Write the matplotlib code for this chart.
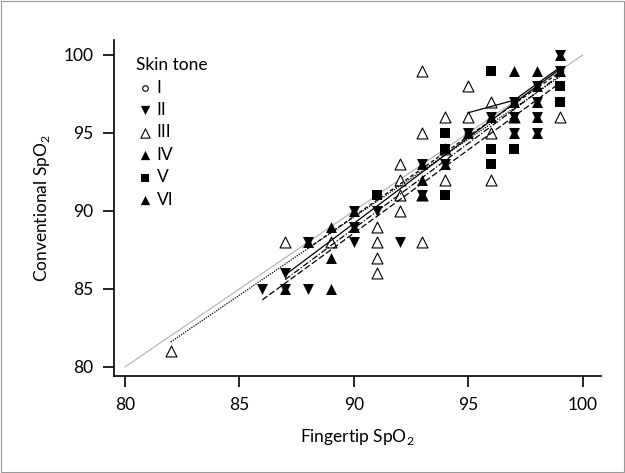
import matplotlib
matplotlib.use("Agg")
import matplotlib.pyplot as plt
from matplotlib.patches import Rectangle

plt.rcParams["font.family"] = ["Lato", "DejaVu Sans"]
plt.rcParams["mathtext.fontset"] = "custom"
plt.rcParams["mathtext.rm"] = "Lato"

# ---- points (fingertip, conventional) ----
t1_x = [95, 97, 99]
t1_y = [95, 97, 99]
t2_x = [86, 87, 87, 88, 88, 90, 90, 90, 91, 92, 93, 93, 94, 95, 96, 97, 97, 97, 98, 98, 98, 98, 99, 99]
t2_y = [85, 85, 86, 85, 88, 88, 89, 90, 90, 88, 91, 93, 93, 95, 96, 97, 96, 95, 98, 97, 96, 95, 100, 99]
t3_x = [82, 87, 89, 91, 91, 91, 91, 92, 92, 92, 92, 93, 93, 93, 93, 94, 94, 94, 95, 95, 96, 96, 96, 97, 99]
t3_y = [81, 88, 88, 86, 87, 88, 89, 90, 91, 92, 93, 88, 91, 95, 99, 92, 94, 96, 96, 98, 92, 95, 97, 96, 96]
t4_x = [87, 88, 89, 89, 89, 90, 90, 93, 93, 93, 94, 95, 96, 97, 97, 97, 98, 98, 98, 98, 99, 99]
t4_y = [85, 88, 85, 87, 89, 89, 90, 91, 93, 92, 93, 95, 96, 97, 96, 95, 98, 97, 96, 95, 100, 99]
t5_x = [91, 94, 94, 94, 96, 96, 96, 97, 99, 99]
t5_y = [91, 91, 95, 94, 99, 94, 93, 94, 97, 98]
t6_x = [97, 98]
t6_y = [99, 99]

# ---- fitted lines per skin tone (end points) ----
fit_x = {"I": [95, 97, 99], "II": [86, 99], "III": [82, 99], "IV": [87, 99], "V": [88, 99], "VI": [87, 99]}
fit_y = {"I": [96.3, 97.1, 99.2], "II": [84.3, 98.2], "III": [81.6, 98.6], "IV": [85.9, 99.1],
         "V": [87.6, 98.9], "VI": [85.6, 98.7]}
fit_style = {"I": "-", "II": (0, (5, 2)), "III": (0, (1, 1)), "IV": "-", "V": (0, (3, 2)),
             "VI": (0, (5, 1.5, 1, 1.5))}

fig = plt.figure(figsize=(6.25, 4.73), dpi=100)
fig.patches.append(Rectangle((0.002, 0.002), 0.996, 0.996, transform=fig.transFigure,
                             fill=False, ec="#999999", lw=0.8))
ax = fig.add_axes([0.1824, 0.2051, 0.7792, 0.7103])

ax.plot([80, 100], [80, 100], color="#b0b0b0", lw=0.8, zorder=1)
for k in fit_x:
    ax.plot(fit_x[k], fit_y[k], color="black", lw=0.9, ls=fit_style[k], zorder=4)

sz = 62
ax.scatter(t1_x, t1_y, s=22, marker="o", facecolor="white", edgecolor="black", lw=0.8, zorder=2, label="I")
ax.scatter(t2_x, t2_y, s=sz, marker="v", color="black", lw=0, zorder=3, label="II")
ax.scatter(t3_x, t3_y, s=sz, marker="^", facecolor="white", edgecolor="black", lw=0.8, zorder=3, label="III")
ax.scatter(t4_x, t4_y, s=sz, marker="^", color="black", lw=0, zorder=3, label="IV")
ax.scatter(t5_x, t5_y, s=44, marker="s", color="black", lw=0, zorder=3, label="V")
ax.scatter(t6_x, t6_y, s=sz, marker="^", color="black", lw=0, zorder=3, label="VI")

ax.set_xlim(79.52, 100.8)
ax.set_ylim(79.42, 100.96)
ax.set_xticks([80, 85, 90, 95, 100])
ax.set_yticks([80, 85, 90, 95, 100])
for sp_ in ("top", "right"):
    ax.spines[sp_].set_visible(False)
for sp_ in ("left", "bottom"):
    ax.spines[sp_].set_linewidth(1.2)
ax.tick_params(direction="out", length=8, width=1.2, labelsize=12.5, pad=7)
ax.set_xlabel("Fingertip SpO$_2$", fontsize=12.5, labelpad=10)
ax.set_ylabel("Conventional SpO$_2$", fontsize=12.5, labelpad=8)

leg = ax.legend(title="Skin tone", loc="upper left", bbox_to_anchor=(0.02, 0.985),
                frameon=False, fontsize=12.5, title_fontsize=12.5, handletextpad=0.1,
                labelspacing=0.37, borderpad=0.2, alignment="left", handlelength=1.1,
                markerscale=0.85)

fig.savefig("out.png", dpi=100)
